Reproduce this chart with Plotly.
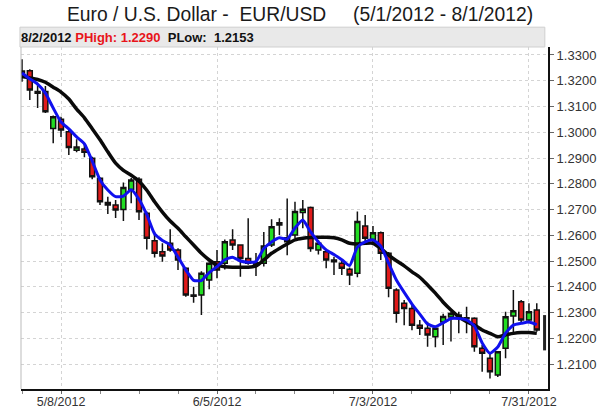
import pandas as pd
import plotly.graph_objects as go

# ---------------- data ----------------
opens = [1.3238, 1.3239, 1.3158, 1.3158, 1.3015, 1.3050, 1.3002, 1.2930, 1.2935, 1.2899,
         1.2821, 1.2727, 1.2717, 1.2700, 1.2778, 1.2817, 1.2685, 1.2579, 1.2536, 1.2569,
         1.2543, 1.2472, 1.2368, 1.2368, 1.2426, 1.2497, 1.2491, 1.2582, 1.2562, 1.2510,
         1.2485, 1.2491, 1.2562, 1.2640, 1.2590, 1.2601, 1.2688, 1.2708, 1.2543, 1.2536,
         1.2504, 1.2491, 1.2468, 1.2452, 1.2636, 1.2584, 1.2610, 1.2530, 1.2387, 1.2336,
         1.2316, 1.2251, 1.2239, 1.2206, 1.2263, 1.2283, 1.2290, 1.2280, 1.2278, 1.2161,
         1.2122, 1.2057, 1.2161, 1.2286, 1.2342, 1.2271, 1.2310]
highs = [1.3283, 1.3245, 1.3183, 1.3180, 1.3065, 1.3060, 1.3015, 1.2973, 1.2955, 1.2905,
         1.2825, 1.2750, 1.2737, 1.2805, 1.2822, 1.2825, 1.2692, 1.2614, 1.2569, 1.2623,
         1.2550, 1.2476, 1.2400, 1.2460, 1.2495, 1.2543, 1.2584, 1.2623, 1.2565, 1.2666,
         1.2531, 1.2613, 1.2662, 1.2666, 1.2743, 1.2730, 1.2737, 1.2712, 1.2582, 1.2540,
         1.2517, 1.2501, 1.2475, 1.2692, 1.2679, 1.2636, 1.2615, 1.2535, 1.2394, 1.2349,
         1.2336, 1.2271, 1.2264, 1.2245, 1.2295, 1.2303, 1.2303, 1.2322, 1.2282, 1.2174,
         1.2142, 1.2148, 1.2303, 1.2387, 1.2349, 1.2336, 1.2336]
lows = [1.3196, 1.3125, 1.3094, 1.3075, 1.2957, 1.2982, 1.2912, 1.2922, 1.2903, 1.2817,
        1.2717, 1.2683, 1.2667, 1.2655, 1.2724, 1.2659, 1.2545, 1.2514, 1.2497, 1.2536,
        1.2465, 1.2361, 1.2338, 1.2290, 1.2390, 1.2433, 1.2467, 1.2543, 1.2439, 1.2485,
        1.2442, 1.2479, 1.2554, 1.2601, 1.2522, 1.2588, 1.2627, 1.2536, 1.2525, 1.2472,
        1.2446, 1.2446, 1.2407, 1.2437, 1.2569, 1.2569, 1.2504, 1.2359, 1.2260, 1.2251,
        1.2231, 1.2213, 1.2167, 1.2165, 1.2174, 1.2187, 1.2219, 1.2219, 1.2148, 1.2070,
        1.2044, 1.2050, 1.2122, 1.2219, 1.2258, 1.2258, 1.2225]
closes = [1.3230, 1.3164, 1.3151, 1.3080, 1.3060, 1.3009, 1.2941, 1.2943, 1.2922, 1.2827,
          1.2730, 1.2717, 1.2698, 1.2785, 1.2815, 1.2691, 1.2588, 1.2530, 1.2519, 1.2543,
          1.2504, 1.2368, 1.2363, 1.2452, 1.2491, 1.2465, 1.2575, 1.2562, 1.2510, 1.2491,
          1.2493, 1.2558, 1.2633, 1.2649, 1.2575, 1.2692, 1.2701, 1.2549, 1.2569, 1.2504,
          1.2497, 1.2472, 1.2446, 1.2653, 1.2588, 1.2610, 1.2530, 1.2394, 1.2297, 1.2316,
          1.2251, 1.2239, 1.2213, 1.2239, 1.2285, 1.2296, 1.2285, 1.2276, 1.2167, 1.2142,
          1.2070, 1.2148, 1.2284, 1.2307, 1.2271, 1.2303, 1.2232]

ma_fast = [1.3230, 1.3207, 1.3187, 1.3152, 1.3094, 1.3040, 1.3013, 1.2982, 1.2955, 1.2888,
           1.2815, 1.2776, 1.2750, 1.2752, 1.2777, 1.2740, 1.2680, 1.2605, 1.2580, 1.2562,
           1.2515, 1.2465, 1.2425, 1.2424, 1.2455, 1.2478, 1.2505, 1.2515, 1.2500, 1.2495,
           1.2498, 1.2548, 1.2574, 1.2590, 1.2585, 1.2628, 1.2659, 1.2613, 1.2574, 1.2543,
           1.2525, 1.2505, 1.2482, 1.2554, 1.2574, 1.2582, 1.2558, 1.2492, 1.2426, 1.2378,
           1.2333, 1.2294, 1.2255, 1.2245, 1.2260, 1.2277, 1.2277, 1.2271, 1.2248, 1.2182,
           1.2142, 1.2166, 1.2220, 1.2251, 1.2258, 1.2263, 1.2253]
ma_slow = [1.3216, 1.3211, 1.3205, 1.3194, 1.3175, 1.3156, 1.3129, 1.3090, 1.3056, 1.3014,
           1.2971, 1.2924, 1.2880, 1.2852, 1.2833, 1.2810, 1.2775, 1.2730, 1.2690, 1.2655,
           1.2627, 1.2594, 1.2562, 1.2530, 1.2504, 1.2484, 1.2478, 1.2476, 1.2476, 1.2476,
           1.2481, 1.2504, 1.2530, 1.2549, 1.2566, 1.2582, 1.2588, 1.2591, 1.2592, 1.2592,
           1.2590, 1.2582, 1.2569, 1.2566, 1.2569, 1.2569, 1.2549, 1.2523, 1.2501, 1.2481,
           1.2458, 1.2437, 1.2407, 1.2375, 1.2340, 1.2310, 1.2284, 1.2264, 1.2251, 1.2232,
           1.2219, 1.2206, 1.2213, 1.2219, 1.2222, 1.2222, 1.2219]

last_day_range = [1.2153, 1.2290]   # 8/2/2012 PLow, PHigh
tick_labels = ["5/8/2012", "6/5/2012", "7/3/2012", "7/31/2012"]
y_ticks = [1.21, 1.22, 1.23, 1.24, 1.25, 1.26, 1.27, 1.28, 1.29, 1.30, 1.31, 1.32, 1.33]

days = pd.bdate_range("2012-05-01", "2012-08-02")
day_labels = [f"{d.month}/{d.day}/{d.year}" for d in days]
idx = list(range(len(day_labels)))
n = len(closes)
x_candles = idx[:n]
x_last = idx[n]
tick_pos = [day_labels.index(t) for t in tick_labels]

FONT = "Liberation Sans, Arial, sans-serif"

fig = go.Figure()
fig.add_trace(go.Candlestick(
    x=x_candles, open=opens, high=highs, low=lows, close=closes,
    increasing=dict(line=dict(color="#111111", width=1.5), fillcolor="#22dd22"),
    decreasing=dict(line=dict(color="#111111", width=1.5), fillcolor="#e01a1a"),
    whiskerwidth=0, showlegend=False, hoverinfo="skip"))
fig.add_trace(go.Scatter(x=[x_last, x_last], y=last_day_range, mode="lines",
                         line=dict(color="#222222", width=3), showlegend=False, hoverinfo="skip"))
fig.add_trace(go.Scatter(x=x_candles, y=ma_slow, mode="lines",
                         line=dict(color="#0a0a0a", width=3.5, shape="spline", smoothing=0.6),
                         showlegend=False, hoverinfo="skip"))
fig.add_trace(go.Scatter(x=x_candles, y=ma_fast, mode="lines",
                         line=dict(color="#1010ee", width=3, shape="spline", smoothing=0.5),
                         showlegend=False, hoverinfo="skip"))

fig.update_layout(
    template="none",
    width=600, height=410,
    margin=dict(l=21, r=52, t=47, b=21, autoexpand=False),
    paper_bgcolor="white", plot_bgcolor="white",
    boxgap=0.1,
    hovermode=False,
    font=dict(family=FONT, size=12, color="#333333"),
    title=dict(text="Euro / U.S. Dollar -&nbsp; EUR/USD&nbsp;&nbsp;&nbsp;&nbsp; (5/1/2012 - 8/1/2012)",
               x=0.5, xanchor="center", y=0.966, yanchor="middle",
               font=dict(family=FONT, size=19.3, color="#1a1a1a")),
    xaxis=dict(range=[-0.13, 67.44], rangeslider=dict(visible=False), automargin=False,
               tickvals=tick_pos, ticktext=tick_labels,
               showgrid=True, gridcolor="#d4d4d4", griddash="dot", gridwidth=1,
               ticks="outside", ticklen=3, tickcolor="#666666", ticklabelstandoff=-3,
               minor=dict(tick0=0, dtick=5, ticks="outside", ticklen=3, tickcolor="#888888", showgrid=False),
               showline=True, linecolor="#111111", linewidth=2, zeroline=False,
               tickfont=dict(family=FONT, size=12.5, color="#333333")),
    yaxis=dict(side="right", range=[1.2003, 1.3331], tickvals=y_ticks, tickformat=".4f",
               automargin=False,
               showgrid=True, gridcolor="#d4d4d4", griddash="dot", gridwidth=1,
               ticks="outside", ticklen=4, tickcolor="#666666",
               showline=True, linecolor="#111111", linewidth=2, zeroline=False,
               tickfont=dict(family=FONT, size=13, color="#333333")),
    shapes=[
        dict(type="rect", xref="paper", yref="paper", x0=-0.002, x1=0.994, y0=1.0, y1=1.058,
             fillcolor="#e9e9e9", line=dict(color="#cfcfcf", width=1), layer="above"),
        dict(type="line", xref="paper", yref="paper", x0=0, x1=0, y0=0, y1=1,
             line=dict(color="#bbbbbb", width=1)),
    ],
    annotations=[
        dict(xref="paper", yref="paper", x=-0.004, y=1.029, xanchor="left", yanchor="middle",
             showarrow=False,
             text="<b>8/2/2012 <span style='color:#e8141a'>PHigh: 1.2290</span>&nbsp; PLow:&nbsp; 1.2153</b>",
             font=dict(family=FONT, size=13, color="#111111")),
    ],
)

fig.write_html("out.html", config={"displayModeBar": False, "staticPlot": True},
               post_script="document.body.style.margin='0';document.body.style.overflow='hidden';")
